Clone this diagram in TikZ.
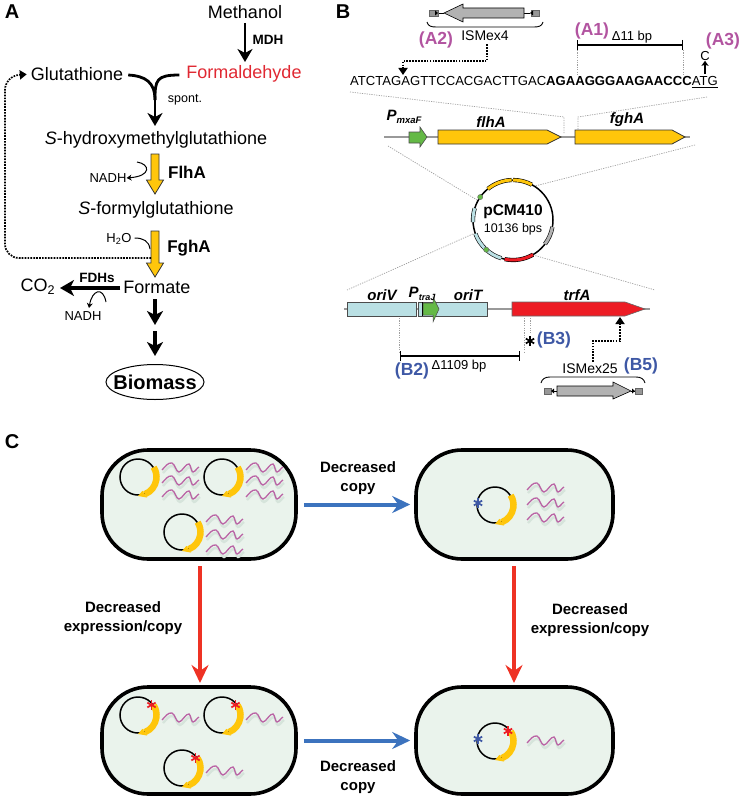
\documentclass[tikz,border=0pt]{standalone}
\usepackage{fontspec}
\setmainfont{Liberation Sans}
\usetikzlibrary{arrows.meta,calc,shapes.geometric}
\definecolor{goldc}{RGB}{255,198,11}
\definecolor{formred}{RGB}{224,40,50}
\definecolor{magc}{RGB}{178,84,160}
\definecolor{bluec}{RGB}{62,88,165}
\definecolor{arrowblue}{RGB}{60,115,190}
\definecolor{arrowred}{RGB}{238,50,36}
\definecolor{oribox}{RGB}{186,224,228}
\definecolor{greenc}{RGB}{100,185,70}
\definecolor{trfred}{RGB}{237,28,36}
\definecolor{cellfill}{RGB}{234,243,236}
\definecolor{wavec}{RGB}{186,100,165}
\definecolor{waveshadow}{RGB}{214,228,219}
\definecolor{isgray}{RGB}{178,178,178}
\newcommand{\fs}[1]{\fontsize{#1}{#1}\selectfont}
\tikzset{
  x=1pt,y=-1pt,
  lbl/.style={inner sep=0pt,font=\fs{18}},
  panel/.style={inner sep=0pt,font=\fs{20}\bfseries},
  small/.style={inner sep=0pt,font=\fs{13}},
  enz/.style={inner sep=0pt,font=\fs{17}\bfseries},
  enzs/.style={inner sep=0pt,font=\fs{13.5}\bfseries},
  gene/.style={inner sep=0pt,font=\fs{15}\bfseries\itshape},
  amark/.style={inner sep=0pt,font=\fs{17.5}\bfseries,text=magc},
  bmark/.style={inner sep=0pt,font=\fs{17.5}\bfseries,text=bluec},
  ctext/.style={inner sep=0pt,font=\fs{15}\bfseries,align=center},
  bigflow/.style={line width=3.2pt,-{Stealth[length=14pt,width=16pt,inset=4pt]}},
  medflow/.style={line width=2.8pt,-{Stealth[length=13pt,width=15pt,inset=4pt]}},
  thinflow/.style={line width=1pt,-{Stealth[length=5pt,width=6pt]}},
  dotflow/.style={line width=1.7pt,dash pattern=on 1.7pt off 1.2pt,-{Triangle[length=7pt,width=9pt]}},
  guide/.style={gray!75,line width=.7pt,dash pattern=on 1.2pt off 1.2pt},
  goldarrow/.style={fill=goldc,draw=black!80,line width=.8pt,line join=miter},
  geneline/.style={gray!80,line width=1.2pt},
  cell/.style={draw=black,line width=3.6pt,fill=cellfill,rounded corners=46pt},
  bluearrow/.style={arrowblue,line width=4pt,-{Stealth[length=18pt,width=17pt,inset=6pt]}},
  redarrow/.style={arrowred,line width=4pt,-{Stealth[length=18pt,width=17pt,inset=6pt]}},
  bar/.style={line width=1.2pt,{Bar[width=10pt,line width=1pt]}-{Bar[width=10pt,line width=1pt]}},
}
\newcommand{\mwave}[2]{%
  \draw[waveshadow,line width=2.4pt,shift={(#1+1,#2+3)}] (0,0) .. controls (3,-3) and (6,-8) .. (10,-7) .. controls (13,-6) and (14,2) .. (17,2) .. controls (20,2) and (24,-7) .. (27,-6) .. controls (29,-5) and (29,2) .. (31,2) .. controls (33,2) and (35,-2) .. (37,-3);
  \draw[wavec,line width=1.3pt,shift={(#1,#2)}] (0,0) .. controls (3,-3) and (6,-8) .. (10,-7) .. controls (13,-6) and (14,2) .. (17,2) .. controls (20,2) and (24,-7) .. (27,-6) .. controls (29,-5) and (29,2) .. (31,2) .. controls (33,2) and (35,-2) .. (37,-3);}
\newcommand{\miniplasmid}[2]{%
  \begin{scope}[shift={(#1,#2)},x=1pt,y=1pt]
    \draw[black,line width=1.5pt] (0,0) circle[radius=18];
    \draw[goldc,line width=6.5pt] (-68:18.5) arc[start angle=-68,end angle=32,radius=18.5];
    \fill[goldc] (-72:14.5) -- (-90:19) -- (-66:22.5) -- cycle;
  \end{scope}}
\newcommand{\cellstar}[3]{%
  \begin{scope}[shift={(#1,#2)},x=1pt,y=1pt]
    \foreach \a in {30,90,150}{\draw[#3,line width=1.7pt] (\a:4.8) -- (\a+180:4.8);}
  \end{scope}}
\newcommand{\parc}[3]{%
  \draw[black,line width=4.2pt] (#1:40) arc[start angle=#1,end angle=#2,radius=40];
  \draw[#3,line width=3pt] (#1:40) arc[start angle=#1,end angle=#2,radius=40];}
\begin{document}
\begin{tikzpicture}
\useasboundingbox (0,0) rectangle (741,800);

% ---- panel A
\node[panel] (pA) at (12,12) {A};
\node[lbl] (methanol) at (245,12) {Methanol};
\node[lbl] (glut) at (77,74) {Glutathione};
\node[lbl,text=formred] (formald) at (244,74) {Formaldehyde};
\node[lbl] (shm) at (156,140) {\textit{S}-hydroxymethylglutathione};
\node[lbl] (sfg) at (156,210) {\textit{S}-formylglutathione};
\node[lbl] (formate) at (157,287) {Formate};
\node[lbl] (co2) at (38,287) {CO\textsubscript{2}};
\node[enzs] (mdh) at (268,40) {MDH};
\node[inner sep=0pt,font=\fs{12.5}] (spont) at (185,100) {spont.};
\node[enz] (flha) at (187,172) {FlhA};
\node[enz] (fgha) at (189,248) {FghA};
\node[enzs] (fdhs) at (97,278) {FDHs};
\node[small] (nadh1) at (108,178) {NADH};
\node[small] (nadh2) at (83,316) {NADH};
\node[small] (h2o) at (119,239) {H\textsubscript{2}O};
\node[inner sep=0pt,font=\fs{20}\bfseries] (biomass) at (155,382) {Biomass};
\draw[line width=1pt] (biomass) ellipse[x radius=49,y radius=17.5];

\draw[medflow] (methanol.south) ++(0,4) -- (245,62);
\coordinate (joinA) at (155,100);
\coordinate (joinB) at (155,126);
\draw[line width=2.8pt] ($(glut.east)+(5,1)$) .. controls ($(glut.east)+(22,2)$) and (155,82) .. (joinA);
\draw[line width=2.8pt] ($(formald.west)+(-7,1)$) .. controls ($(formald.west)+(-30,1)$) and (155,80) .. (joinA);
\draw[medflow] (joinA) -- (joinB);

\coordinate (flhtop) at (155,154);
\coordinate (flhtip) at (155,194);
\draw[goldarrow] ($(flhtop)+(-4,0)$) -- ($(flhtop)+(4,0)$) -- ($(flhtip)+(4,-14)$) -- ($(flhtip)+(8.5,-14)$) -- (flhtip) -- ($(flhtip)+(-8.5,-14)$) -- ($(flhtip)+(-4,-14)$) -- cycle;
\coordinate (fghtop) at (155,231);
\coordinate (fghtip) at (155,277);
\draw[goldarrow] ($(fghtop)+(-4,0)$) -- ($(fghtop)+(4,0)$) -- ($(fghtip)+(4,-14)$) -- ($(fghtip)+(8.5,-14)$) -- (fghtip) -- ($(fghtip)+(-8.5,-14)$) -- ($(fghtip)+(-4,-14)$) -- cycle;

\draw[thinflow] ($(flhtop)+(-18,8)$) .. controls (150,164) and (152,176) .. (nadh1.east);
\draw[line width=1pt] ($(h2o.east)+(3,-1)$) .. controls (143,238) and (149,241) .. (150,249);
\draw[dotflow,rounded corners=14pt,shorten >=4pt] ($(fghtop)+(-4,27)$) -- (5,258) -- (5,76) -- (glut.west);
\draw[bigflow] (formate.west) ++(-3,1) -- (60,288);
\draw[thinflow] (106,302) .. controls (103,286) and (92,290) .. (89,308);
\draw[bigflow] (155,299) -- (155,325);
\draw[bigflow] (155,331) -- (155,356);

% ---- panel B
\node[panel] (pB) at (343,12) {B};
\coordinate (is1a) at (524,13);
\coordinate (is1b) at (444,13);
\draw[line width=.7pt] (530,13) -- (is1a);
\draw[line width=.7pt] (438,13) -- (is1b);
\draw[fill=isgray!85!black,draw=black!60,line width=.4pt] (429,10) rectangle (438,16);
\draw[fill=isgray!85!black,draw=black!60,line width=.4pt] (531,10) rectangle (539,16);
\fill (438,13) -- (435,10.5) -- (435,15.5) -- cycle;
\fill (530,13) -- (533,10.5) -- (533,15.5) -- cycle;
\draw[fill=isgray,line width=.6pt] (is1a) ++(0,-5) -- (463,8) -- (463,4) -- (is1b) -- (463,22) -- (463,18) -- (524,18) -- cycle;
\draw[line width=.9pt] (427,22) .. controls (428,26) and (431,27) .. (436,27) -- (534,27) .. controls (539,27) and (542,26) .. (543,22);
\node[inner sep=0pt,font=\fs{14}] (ismex4) at (485,36) {ISMex4};
\node[amark] (a2) at (436,40) {(A2)};
\node[amark] (a1) at (592,31) {(A1)};
\node[amark] (a3) at (723,41) {(A3)};
\node[small] (d11) at (632,37) {Δ11 bp};
\node[small] (cbase) at (705,56) {C};
\node[anchor=west,inner sep=0pt,font=\fs{13.1}] (seq) at (350,82) {ATCTAGAGTTCCACGACTTGAC\textbf{AGAAGGGAAGAACCC}\underline{ATG}};
\coordinate (b1) at (577,45);
\coordinate (b2) at (683,45);
\draw[bar] (b1) -- (b2);
\draw[guide] (b1) ++(0,5) -- (577,75);
\draw[guide] (b2) ++(0,5) -- (683,75);
\draw[line width=1.2pt,-{Stealth[length=5pt,width=7pt,inset=1pt]}] (705,74) -- (cbase.south);
\coordinate (ins1) at (403,75);
\draw[dotflow] ($(ismex4.south)+(2,3)$) -- (487,61) -- (403,61) -- (ins1);
\draw[guide] (350,92) -- (564,117) -- (564,133);
\draw[guide] (707,97) -- (578,117) -- (578,133);

\draw[geneline] (384,137) -- (690,137);
\draw[fill=greenc,draw=black!70,line width=.6pt] (409,132) -- (420,132) -- (420,127) -- (427,137) -- (420,147) -- (420,143) -- (409,143) -- cycle;
\draw[goldarrow] (438,130) -- (547,130) -- (561,137) -- (547,144) -- (438,144) -- cycle;
\draw[goldarrow] (575,130) -- (672,130) -- (685,137) -- (672,144) -- (575,144) -- cycle;
\node[gene] (flhatxt) at (491,122) {flhA};
\node[gene] (fghatxt) at (627,120) {fghA};
\node[gene] (pmxaf) at (404,117) {P\raisebox{-3pt}{\fs{9.5}mxaF}};

\draw[guide] (388,146) -- (477,200);
\draw[guide] (695,145) -- (535,186);
\draw[guide] (475,233) -- (347,290);
\draw[guide] (533,255) -- (655,290);

\begin{scope}[shift={(513,220)},x=1pt,y=1pt]
  \draw[black,line width=1.5pt] (0,0) circle[radius=40];
  \parc{129}{92}{goldc}
  \parc{90}{62}{goldc}
  \parc{183}{163}{oribox}
  \parc{253}{200}{oribox}
  \parc{300}{258}{trfred}
  \parc{350}{323}{isgray}
  \fill[greenc,draw=black!60,line width=.4pt] (145:40) circle[radius=2.6];
  \fill[greenc,draw=black!60,line width=.4pt] (228:40) circle[radius=2.6];
\end{scope}
\node[inner sep=0pt,font=\fs{15.5}\bfseries] (pcm) at (513,212) {pCM410};
\node[inner sep=0pt,font=\fs{12.5}] (bps) at (513,229) {10136 bps};

\draw[geneline] (344,309) -- (650,309);
\draw[fill=oribox,draw=black!70,line width=.7pt] (347,302) rectangle (416,316);
\draw[fill=oribox,draw=black!70,line width=.7pt] (418,302) rectangle (487,316);
\draw[line width=.8pt] (422,302) -- (422,316);
\draw[fill=greenc,draw=black!70,line width=.5pt] (423,303) -- (433,303) -- (433,297) -- (439,309) -- (433,322) -- (433,315) -- (423,315) -- cycle;
\draw[fill=trfred,draw=black!60,line width=.6pt] (512,302) -- (625,302) -- (645,309) -- (625,316) -- (512,316) -- cycle;
\node[gene] (oriv) at (382,295) {oriV};
\node[gene] (ptraj) at (422,294) {P\raisebox{-3pt}{\fs{9}traJ}};
\node[gene] (orit) at (468,295) {oriT};
\node[gene] (trfa) at (577,295) {trfA};
\coordinate (b3) at (400,356);
\coordinate (b4) at (520,356);
\draw[bar] (b3) -- (b4);
\draw[guide] (399,318) -- (399,352);
\draw[guide] (524,318) -- (524,353);
\draw[guide] (530,318) -- (530,333);
\cellstar{530}{341}{black}
\node[bmark] (b3t) at (554,340) {(B3)};
\node[small] (d1109) at (459,366) {Δ1109 bp};
\node[bmark] (b2t) at (412,371) {(B2)};
\node[inner sep=0pt,font=\fs{14}] (ismex25) at (590,369) {ISMex25};
\node[bmark] (b5t) at (641,366) {(B5)};
\coordinate (ins2) at (620,317);
\draw[dotflow] ($(ismex25.north)+(3,-2)$) -- (593,341) -- (620,341) -- (ins2);
\draw[line width=.9pt] (541,383) .. controls (542,379) and (545,377) .. (550,377) -- (636,377) .. controls (641,377) and (644,379) .. (645,383);
\draw[line width=.7pt] (551,391) -- (557,391);
\draw[line width=.7pt] (631,391) -- (635,391);
\draw[fill=isgray!85!black,draw=black!60,line width=.4pt] (544,388) rectangle (551,394);
\draw[fill=isgray!85!black,draw=black!60,line width=.4pt] (635,388) rectangle (642,394);
\fill (551,391) -- (554,388.5) -- (554,393.5) -- cycle;
\fill (635,391) -- (632,388.5) -- (632,393.5) -- cycle;
\draw[fill=isgray,line width=.6pt] (557,386) -- (613,386) -- (613,382) -- (631,391) -- (613,399) -- (613,396) -- (557,396) -- cycle;

% ---- panel C
\node[panel] (pC) at (12,442) {C};
\node[cell,minimum width=194pt,minimum height=109pt,inner sep=0pt] (cell1) at (199,504.5) {};
\node[cell,minimum width=197pt,minimum height=109pt,inner sep=0pt] (cell2) at (514.5,504.5) {};
\node[cell,minimum width=194pt,minimum height=107pt,inner sep=0pt] (cell3) at (199,740.5) {};
\node[cell,minimum width=197pt,minimum height=107pt,inner sep=0pt] (cell4) at (514.5,740.5) {};

\miniplasmid{138}{477}
\miniplasmid{222}{477}
\miniplasmid{182}{532}
\foreach \yy in {470,483,497}{\mwave{162}{\yy}\mwave{246}{\yy}}
\foreach \yy in {522,537,552}{\mwave{206}{\yy}}

\miniplasmid{495}{505}
\cellstar{478}{503}{bluec}
\foreach \yy in {490,505,520}{\mwave{527}{\yy}}

\miniplasmid{138}{715}
\miniplasmid{222}{715}
\miniplasmid{182}{768}
\cellstar{151.5}{705}{trfred}
\cellstar{235.5}{705}{trfred}
\cellstar{195.5}{758}{trfred}
\mwave{162}{720}\mwave{246}{720}\mwave{206}{773}

\miniplasmid{495}{741}
\cellstar{478}{739}{bluec}
\cellstar{508}{731}{trfred}
\mwave{527}{743}

\draw[bluearrow] (cell1.east) ++(6,0) -- ($(cell2.west)+(-4,0)$);
\draw[bluearrow] (cell3.east) ++(6,0) -- ($(cell4.west)+(-4,0)$);
\draw[redarrow] (200,566) -- (200,683);
\draw[redarrow] (514,566) -- (514,683);
\node[ctext] (t1) at (358,478) {Decreased\\[4pt]copy};
\node[ctext] (t2) at (358,777) {Decreased\\[4pt]copy};
\node[ctext] (t3) at (123,618) {Decreased\\[4pt]expression/copy};
\node[ctext] (t4) at (590,620) {Decreased\\[4pt]expression/copy};
\end{tikzpicture}
\end{document}
